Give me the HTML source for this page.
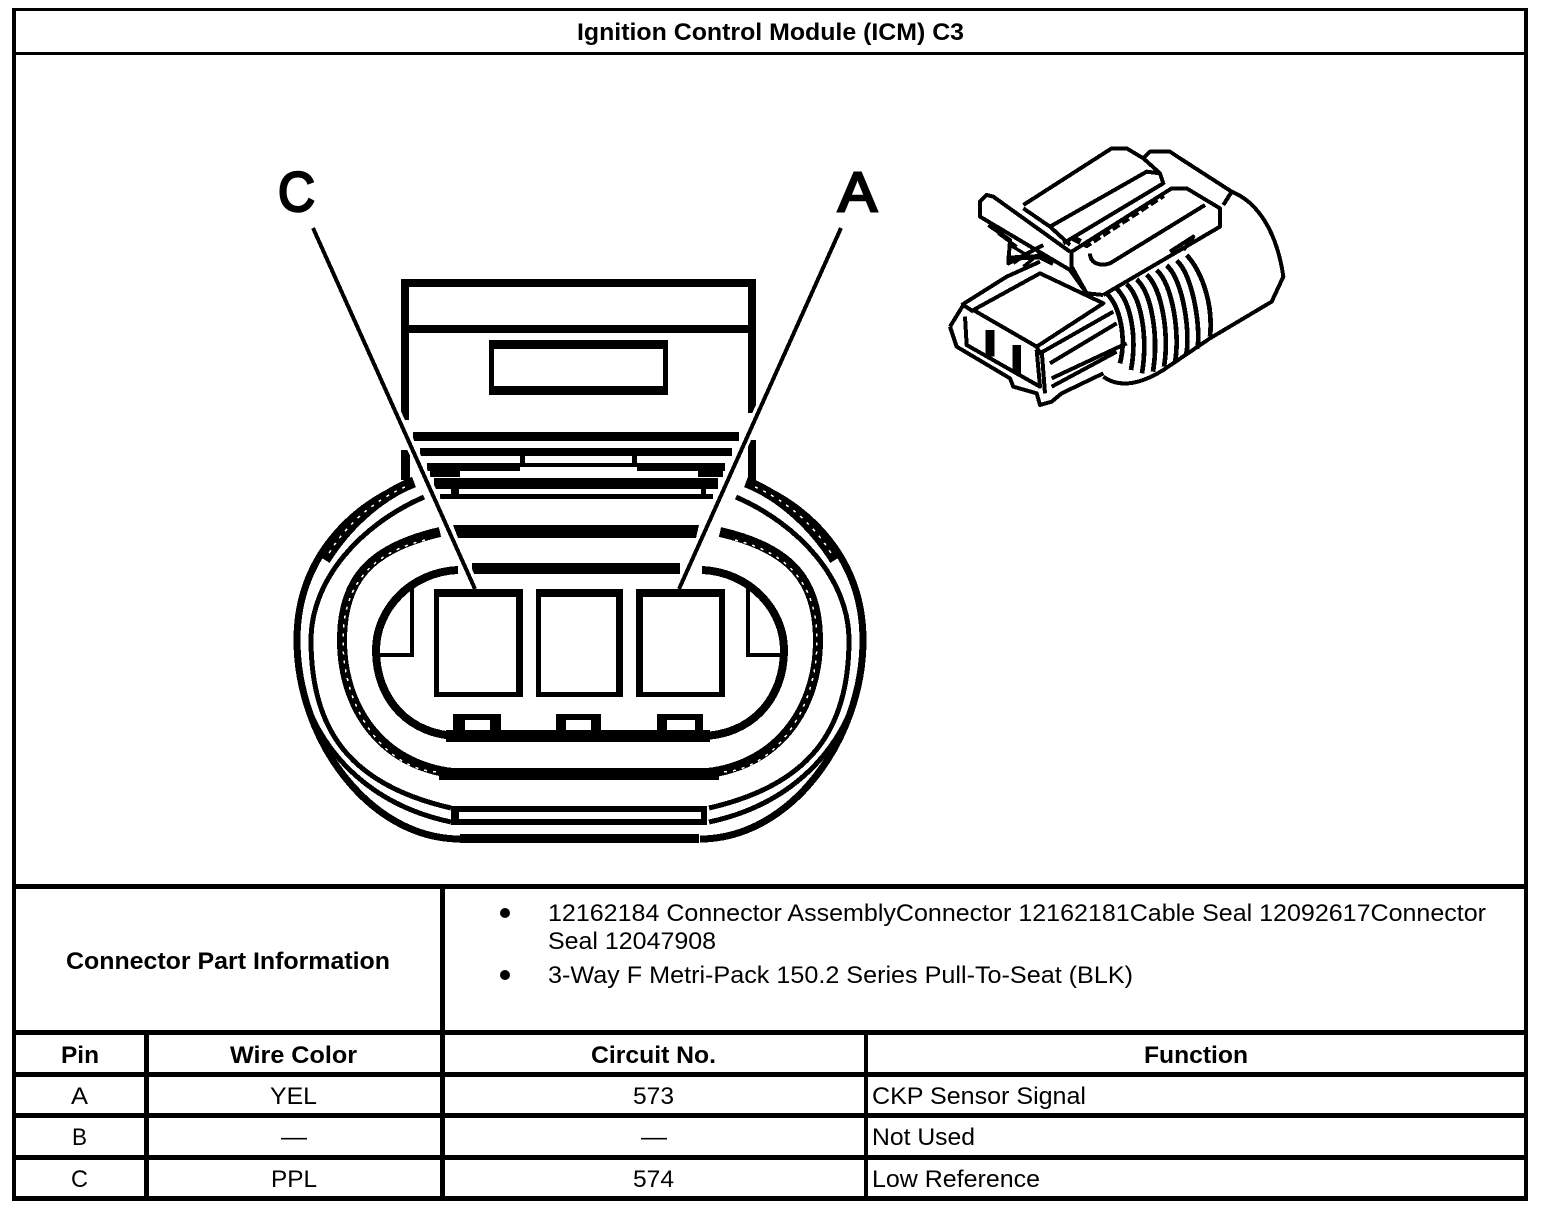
<!DOCTYPE html>
<html>
<head>
<meta charset="utf-8">
<style>
html,body{margin:0;padding:0;background:#fff}
svg{display:block}
text{font-family:"Liberation Sans",Arial,sans-serif;font-size:24px;fill:#000}
.b{font-weight:bold}
</style>
</head>
<body>
<svg width="1568" height="1212" viewBox="0 0 1568 1212" xmlns="http://www.w3.org/2000/svg">
<rect width="1568" height="1212" fill="#fff"/>
<g fill="#000" shape-rendering="crispEdges">
<rect x="12" y="8" width="1516" height="3"/>
<rect x="12" y="8" width="4" height="1193"/>
<rect x="1524" y="8" width="4" height="1193"/>
<rect x="12" y="52" width="1516" height="3"/>
<rect x="12" y="884" width="1516" height="5"/>
<rect x="12" y="1030" width="1516" height="5"/>
<rect x="12" y="1072" width="1516" height="5"/>
<rect x="12" y="1113" width="1516" height="5"/>
<rect x="12" y="1155" width="1516" height="5"/>
<rect x="12" y="1196" width="1516" height="5"/>
<rect x="440" y="884" width="5" height="317"/>
<rect x="144" y="1030" width="5" height="171"/>
<rect x="864" y="1030" width="4" height="171"/>
</g>

<g shape-rendering="crispEdges">
<defs>
<g id="half" fill="none" stroke="#000" stroke-linecap="butt">
  <path d="M412,482 C350,505 297,560 297,640 C297,740 370,839 460,839" stroke-width="7"/>
  <path d="M414,482 C385,493 350,520 325,560" stroke-width="11"/>
  <path d="M424,497 C360,525 311,580 311,640 C311,730 350,785 451,808" stroke-width="5"/>
  <path d="M300,680 C315,750 370,805 451,822" stroke-width="5"/>
  <path d="M440,532 C370,548 342,580 342,640 C342,715 390,774 470,774" stroke-width="10"/>
  <path d="M458,570 C410,572 376,610 376,650 C376,700 410,736 460,736" stroke-width="8"/>
  <path d="M412,587 V655 H374" stroke-width="4"/>
  <path d="M425,540 C375,552 343,582 343,640 C343,715 390,772 440,772" stroke="#fff" stroke-width="1.5" stroke-dasharray="3 6"/>
  <path d="M405,487 C375,500 345,525 328,555" stroke="#fff" stroke-width="1.5" stroke-dasharray="3 6"/>
</g>
</defs>
<use href="#half"/>
<use href="#half" transform="translate(1160,0) scale(-1,1)"/>

<g fill="#000">
  <!-- top housing -->
  <rect x="401" y="279" width="355" height="8"/>
  <rect x="401" y="325" width="355" height="8"/>
  <rect x="401" y="279" width="8" height="141"/>
  <rect x="748" y="279" width="8" height="134"/>
  <rect x="401" y="450" width="9" height="30"/>
  <rect x="748" y="440" width="8" height="40"/>
  <!-- window -->
  <path fill-rule="evenodd" d="M489,340H668V395H489Z M494,349V386H663V349Z"/>
  <!-- stacked bars -->
  <rect x="413" y="432" width="326" height="9"/>
  <rect x="420" y="448" width="312" height="8"/>
  <rect x="427" y="463" width="298" height="4"/>
  <rect x="520" y="456" width="5" height="10"/>
  <rect x="632" y="456" width="5" height="10"/>
  <rect x="427" y="463" width="93" height="8"/>
  <rect x="637" y="463" width="88" height="8"/>
  <rect x="430" y="470" width="30" height="7"/>
  <rect x="698" y="470" width="25" height="7"/>
  <rect x="434" y="478" width="284" height="11"/>
  <rect x="451" y="489" width="8" height="6"/>
  <rect x="701" y="489" width="5" height="6"/>
  <rect x="440" y="494" width="273" height="5"/>
  <path d="M453,525H699L696,538H458Z"/>
  <rect x="472" y="563" width="208" height="11"/>
  <!-- pins -->
  <path fill-rule="evenodd" d="M434,589H523V697H434Z M439,597V692H516V597Z"/>
  <path fill-rule="evenodd" d="M536,589H623V697H536Z M541,597V692H616V597Z"/>
  <path fill-rule="evenodd" d="M636,589H725V697H636Z M643,597V692H719V597Z"/>
  <!-- tabs -->
  <path fill-rule="evenodd" d="M453,714H501V732H453Z M465,720V732H490V720Z"/>
  <path fill-rule="evenodd" d="M556,714H601V732H556Z M566,720V732H591V720Z"/>
  <path fill-rule="evenodd" d="M657,714H703V732H657Z M667,720V732H695V720Z"/>
  <!-- lower bars -->
  <rect x="446" y="730" width="264" height="12"/>
  <rect x="439" y="768" width="280" height="12"/>
  <rect x="451" y="806" width="256" height="6"/>
  <rect x="451" y="819" width="256" height="6"/>
  <rect x="451" y="806" width="8" height="19"/>
  <rect x="701" y="806" width="6" height="19"/>
  <rect x="460" y="834" width="239" height="9"/>
</g>

<!-- leader lines -->
<g fill="none" stroke-linecap="butt">
  <line x1="313" y1="228" x2="475" y2="588" stroke="#fff" stroke-width="10"/>
  <line x1="841" y1="228" x2="679" y2="588" stroke="#fff" stroke-width="10"/>
  <line x1="313" y1="228" x2="475" y2="589" stroke="#000" stroke-width="4"/>
  <line x1="841" y1="228" x2="679" y2="589" stroke="#000" stroke-width="4"/>
</g>
<path d="M434,589H523V597H434Z M636,589H725V597H636Z" fill="#000"/>

<!-- isometric connector -->
<g transform="translate(930,130) scale(0.33333)" fill="none" stroke="#000" stroke-width="12" stroke-linejoin="round">
  <path d="M905,185 C980,215 1040,300 1060,440 L1025,515 L840,625 L700,720"/>
  <path d="M280,225 L545,55 L590,55 L640,85 L660,65 L720,65 L750,85 L905,185 L880,225"/>
  <path d="M640,85 L690,130 L700,160 L400,340"/>
  <path d="M280,235 L360,290 L650,125 L690,130"/>
  <path d="M360,290 L420,345"/>
  <path d="M430,325 L470,345 L700,195" stroke-width="18" stroke-dasharray="24 10"/>
  <path d="M520,495 L870,290 L870,235 L770,175 L725,175 L425,365 L425,410 L470,490 L520,495"/>
  <path d="M480,370 C480,400 510,410 540,400 L825,225"/>
  <path d="M420,365 L190,200 L170,195 L150,215 L150,260 L420,420 L470,490"/>
  <path d="M175,285 L240,330 L235,400 L340,345"/>
  <path d="M230,385 L330,380 L370,400" stroke-width="16"/>
  <path d="M250,400 L300,365 M280,410 L330,370 M205,310 L260,350 M240,345 L290,375" stroke-width="10"/>
  <path d="M95,525 L230,440 L330,395"/>
  <path d="M130,540 L330,430 L520,520 L320,650 Z"/>
  <path d="M60,590 L100,525 L130,545"/>
  <path d="M60,590 L80,650 L240,745 L250,770 L320,790 L330,825 L365,815 L395,790 L520,730"/>
  <path d="M105,560 L110,645 L330,770 L320,660"/>
  <path d="M180,600 V680 M260,645 V730" stroke-width="26"/>
  <path d="M335,660 L345,790"/>
  <path d="M320,650 L330,670 L550,545"/>
  <path d="M360,700 L560,580 M365,745 L590,640 M365,770 L560,665"/>
  <path d="M520,740 C560,770 620,770 700,720"/>
  <path d="M720,365 L790,320 L760,360"/>
  <g stroke-width="14">
  <path d="M530,490 C570,530 590,620 570,700"/>
  <path d="M560,476 C602,517 622,620 603,720"/>
  <path d="M590,462 C634,504 654,620 636,730"/>
  <path d="M620,448 C666,491 686,620 669,725"/>
  <path d="M650,434 C698,478 718,620 702,710"/>
  <path d="M680,420 C730,465 750,620 735,695"/>
  <path d="M710,406 C762,452 782,620 768,675"/>
  <path d="M740,392 C794,439 814,620 801,655"/>
  <path d="M770,375 C820,430 850,530 840,620"/>
  </g>
</g>
</g>

<!-- labels -->
<text x="278" y="211" style="font-size:56px" stroke="#000" stroke-width="2.5" textLength="37" lengthAdjust="spacingAndGlyphs">C</text>
<text x="838" y="211" style="font-size:56px" stroke="#000" stroke-width="2.5" textLength="39" lengthAdjust="spacingAndGlyphs">A</text>

<text class="b" x="577" y="40" textLength="387" lengthAdjust="spacingAndGlyphs">Ignition Control Module (ICM) C3</text>
<text class="b" x="66" y="969" textLength="324" lengthAdjust="spacingAndGlyphs">Connector Part Information</text>

<circle cx="505" cy="913" r="5" fill="#000"/>
<circle cx="505" cy="975" r="5" fill="#000"/>
<text x="548" y="921" textLength="938" lengthAdjust="spacingAndGlyphs">12162184 Connector AssemblyConnector 12162181Cable Seal 12092617Connector</text>
<text x="548" y="949" textLength="168" lengthAdjust="spacingAndGlyphs">Seal 12047908</text>
<text x="548" y="983" textLength="585" lengthAdjust="spacingAndGlyphs">3-Way F Metri-Pack 150.2 Series Pull-To-Seat (BLK)</text>

<text class="b" x="61" y="1063" textLength="38" lengthAdjust="spacingAndGlyphs">Pin</text>
<text class="b" x="230" y="1063" textLength="127" lengthAdjust="spacingAndGlyphs">Wire Color</text>
<text class="b" x="591" y="1063" textLength="125" lengthAdjust="spacingAndGlyphs">Circuit No.</text>
<text class="b" x="1144" y="1063" textLength="104" lengthAdjust="spacingAndGlyphs">Function</text>

<text x="71" y="1104" textLength="17" lengthAdjust="spacingAndGlyphs">A</text>
<text x="270" y="1104" textLength="47" lengthAdjust="spacingAndGlyphs">YEL</text>
<text x="633" y="1104" textLength="41" lengthAdjust="spacingAndGlyphs">573</text>
<text x="872" y="1104" textLength="214" lengthAdjust="spacingAndGlyphs">CKP Sensor Signal</text>

<text x="72" y="1145" textLength="15" lengthAdjust="spacingAndGlyphs">B</text>
<text x="281" y="1145" textLength="26" lengthAdjust="spacingAndGlyphs">—</text>
<text x="641" y="1145" textLength="26" lengthAdjust="spacingAndGlyphs">—</text>
<text x="872" y="1145" textLength="103" lengthAdjust="spacingAndGlyphs">Not Used</text>

<text x="71" y="1187" textLength="17" lengthAdjust="spacingAndGlyphs">C</text>
<text x="271" y="1187" textLength="46" lengthAdjust="spacingAndGlyphs">PPL</text>
<text x="633" y="1187" textLength="41" lengthAdjust="spacingAndGlyphs">574</text>
<text x="872" y="1187" textLength="168" lengthAdjust="spacingAndGlyphs">Low Reference</text>
</svg>
</body>
</html>
